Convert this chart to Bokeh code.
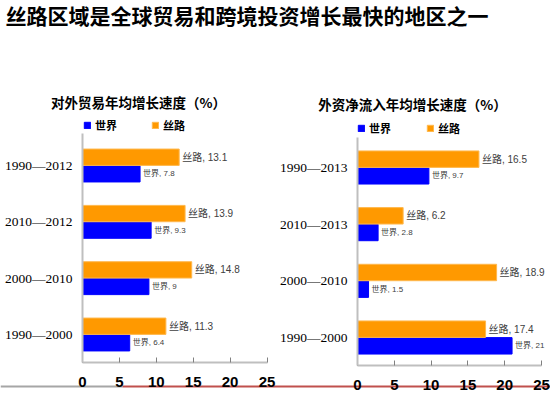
from bokeh.plotting import figure
from bokeh.models import (Range1d, LinearAxis, FixedTicker, ColumnDataSource,
                          Legend, LegendItem, Label)
from bokeh.transform import dodge
from bokeh.core.properties import value
from bokeh.embed import file_html
from bokeh.resources import INLINE

# ---------------- data ----------------
main_title = "丝路区域是全球贸易和跨境投资增长最快的地区之一"
left_title = "对外贸易年均增长速度（%）"
right_title = "外资净流入年均增长速度（%）"
series_names = ["世界", "丝路"]

left_periods = ["1990—2012", "2010—2012", "2000—2010", "1990—2000"]
left_world = [7.8, 9.3, 9, 6.4]
left_silk = [13.1, 13.9, 14.8, 11.3]

right_periods = ["1990—2013", "2010—2013", "2000—2010", "1990—2000"]
right_world = [9.7, 2.8, 1.5, 21]
right_silk = [16.5, 6.2, 18.9, 17.4]

x_ticks = [0, 5, 10, 15, 20, 25]

# ---------------- layout (canvas pixels) ----------------
W, H = 550, 395
L_X0, L_X25 = 82, 266.5
R_X0, R_X25 = 357, 541
L_Y0, L_UNIT = 334, 56.33
R_Y0, R_UNIT = 337, 56.67
XMAX = x_ticks[-1]

BLUE = "#0000FF"
ORANGE = "#FF9900"
AXIS_GRAY = "#BFBFBF"
CJK = "'Noto Sans CJK SC'"
SANS = "'Liberation Sans', 'Noto Sans CJK SC'"
SERIF = "'Liberation Serif', 'Noto Sans CJK SC'"


def xr(px0, px_end):
    s = (px_end - px0) / XMAX
    return Range1d(-px0 / s, (W - px0) / s)


def yr(py0, unit):
    return Range1d(-(H - py0) / unit, py0 / unit)


p = figure(width=W, height=H, x_range=xr(L_X0, L_X25), y_range=yr(L_Y0, L_UNIT),
           x_axis_location=None, y_axis_location=None, toolbar_location=None,
           output_backend="svg", min_border=0, outline_line_color=None,
           background_fill_color="white", border_fill_color="white")
p.grid.visible = False
p.extra_x_ranges = {"rx": xr(R_X0, R_X25), "px": Range1d(0, W)}
p.extra_y_ranges = {"ry": yr(R_Y0, R_UNIT), "py": Range1d(H, 0)}


def make_src(periods, world, silk):
    n = len(periods)
    return ColumnDataSource(dict(
        y=[n - 1 - i for i in range(n)],
        world=world, silk=silk,
        wl=[f"{series_names[0]}, {v:g}" for v in world],
        sl=[f"{series_names[1]}, {v:g}" for v in silk],
    ))


def draw_chart(periods, world, silk, xname, yname, top_bound, legend_loc, legend_spacing):
    src = make_src(periods, world, silk)
    kw = {}
    if xname:
        kw = dict(x_range_name=xname, y_range_name=yname)
    off = 0.147
    hb = 0.29
    rw = p.hbar(y=dodge("y", -off), left=0, right="world", height=hb, source=src,
                fill_color=BLUE, line_color=BLUE, **kw)
    rs = p.hbar(y=dodge("y", off), left=0, right="silk", height=hb, source=src,
                fill_color=ORANGE, line_color="#FFB84D", **kw)
    p.text(x="silk", y=dodge("y", off), text="sl", source=src, x_offset=3,
           text_baseline="middle", text_align="left", text_font_size="10px",
           text_color="#404040", text_font=value(SANS), **kw)
    p.text(x="world", y=dodge("y", -off), text="wl", source=src, x_offset=3,
           text_baseline="middle", text_align="left", text_font_size="8px",
           text_color="#404040", text_font=value(SANS), **kw)

    n = len(periods)
    yaxis = LinearAxis(fixed_location=0, bounds=(-0.5, top_bound),
                       ticker=FixedTicker(ticks=list(range(n))),
                       major_label_overrides={n - 1 - i: lab for i, lab in enumerate(periods)},
                       **kw)
    yaxis.axis_line_color = AXIS_GRAY
    yaxis.axis_line_width = 2
    yaxis.major_tick_in = 0
    yaxis.major_tick_out = 0
    yaxis.minor_tick_line_color = None
    yaxis.major_label_standoff = 10
    yaxis.major_label_text_font = SERIF
    yaxis.major_label_text_font_size = "13.5px"
    yaxis.major_label_text_color = "black"
    p.add_layout(yaxis, "left")

    xaxis = LinearAxis(fixed_location=-0.5, bounds=(0, XMAX),
                       ticker=FixedTicker(ticks=x_ticks), **kw)
    xaxis.axis_line_color = AXIS_GRAY
    xaxis.axis_line_width = 2
    xaxis.major_tick_in = 5
    xaxis.major_tick_out = 0
    xaxis.major_tick_line_color = "#808080"
    xaxis.minor_tick_line_color = None
    xaxis.major_label_standoff = 14
    xaxis.major_label_text_font = "Liberation Sans"
    xaxis.major_label_text_font_style = "bold"
    xaxis.major_label_text_font_size = "15px"
    xaxis.major_label_text_color = "black"
    p.add_layout(xaxis, "below")

    leg = Legend(items=[LegendItem(label=series_names[0], renderers=[rw]),
                        LegendItem(label=series_names[1], renderers=[rs])],
                 orientation="horizontal", location=legend_loc, padding=0, margin=0,
                 spacing=legend_spacing, glyph_width=8, glyph_height=8, label_standoff=4,
                 label_text_font=CJK, label_text_font_size="11px",
                 label_text_font_style="bold", label_text_color="black",
                 border_line_color=None, background_fill_alpha=0)
    p.add_layout(leg)


draw_chart(left_periods, left_world, left_silk, None, None, 3.57, (83, 262), 34)
draw_chart(right_periods, right_world, right_silk, "rx", "ry", 3.53, (357, 259), 35)

# decorative bottom line
p.segment(x0=[0, 122], x1=[122, W], y0=[386, 386], y1=[386, 386],
          line_color=["#A6A6A6", "#C0504D"], line_width=2,
          x_range_name="px", y_range_name="py")

# titles
p.add_layout(Label(x=5, y=14, x_range_name="px", y_range_name="py", text=main_title,
                   text_font=CJK, text_font_size="21px", text_font_style="bold",
                   text_baseline="middle", text_align="left", text_color="black"))
p.add_layout(Label(x=138, y=101.5, x_range_name="px", y_range_name="py", text=left_title,
                   text_font=CJK, text_font_size="13.5px", text_font_style="bold",
                   text_baseline="middle", text_align="center", text_color="black"))
p.add_layout(Label(x=412, y=103.5, x_range_name="px", y_range_name="py", text=right_title,
                   text_font=CJK, text_font_size="13.5px", text_font_style="bold",
                   text_baseline="middle", text_align="center", text_color="black"))

open("out.html", "w").write(file_html(p, INLINE))
